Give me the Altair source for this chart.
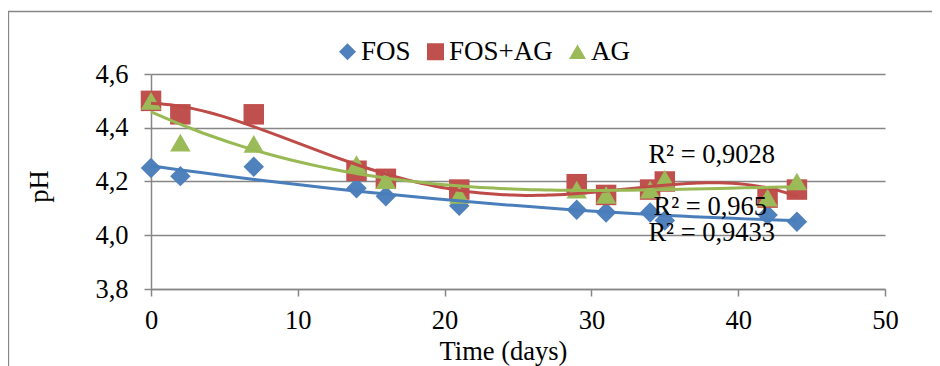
import altair as alt
import pandas as pd

# ---- data ----
days = [0, 2, 7, 14, 16, 21, 29, 31, 34, 35, 42, 44]
fos = [4.25, 4.22, 4.255, 4.175, 4.145, 4.11, 4.095, 4.085, 4.085, 4.055, 4.075, 4.05]
fos_ag = [4.50, 4.45, 4.45, 4.24, 4.21, 4.17, 4.19, 4.15, 4.17, 4.20, 4.14, 4.17]
ag = [4.50, 4.345, 4.34, 4.265, 4.205, 4.15, 4.17, 4.15, 4.17, 4.21, 4.14, 4.20]

series = ["FOS", "FOS+AG", "AG"]
marker_colors = ["#4F81BD", "#C0504D", "#9BBB59"]
line_colors = ["#4A7EBB", "#BE4B48", "#98B954"]
shapes = ["diamond", "square", "triangle-up"]
poly_orders = [2, 4, 3]

r2_text = ["R² = 0,9028", "R² = 0,965", "R² = 0,9433"]
r2_x = [38.2, 38.1, 38.2]
r2_y = [4.269, 4.075, 3.980]

x_ticks = [0, 10, 20, 30, 40, 50]
y_ticks = [3.8, 4.0, 4.2, 4.4, 4.6]

# ---- tables ----
values = {"FOS": fos, "FOS+AG": fos_ag, "AG": ag}
rows = []
for s in series:
    for d, v in zip(days, values[s]):
        rows.append({"day": d, "pH": v, "series": s})
df = pd.DataFrame(rows)
df_r2 = pd.DataFrame({"day": r2_x, "pH": r2_y, "label": r2_text})

W, H = 734, 215
FONT = "Liberation Serif"
FS = 26.5
GRAY = "#868686"

x_enc = alt.X(
    "day:Q",
    scale=alt.Scale(domain=[0, 50], nice=False, zero=False),
    axis=alt.Axis(
        values=x_ticks, title="Time (days)", grid=False, labelFlush=False,
        domainColor=GRAY, domainWidth=1.5, tickColor=GRAY, tickWidth=1.5, tickSize=7,
        labelFont=FONT, labelFontSize=FS, labelColor="black", labelPadding=11,
        titleFont=FONT, titleFontSize=FS, titleFontWeight="normal", titleColor="black",
        titleX=352, titleY=70, titleAlign="center", titleBaseline="alphabetic",
    ),
)
y_enc = alt.Y(
    "pH:Q",
    scale=alt.Scale(domain=[3.8, 4.6], nice=False, zero=False),
    axis=alt.Axis(
        values=y_ticks, title="pH", labelFlush=False,
        labelExpr="replace(format(datum.value, '.1f'), '.', ',')",
        grid=True, gridColor=GRAY, gridWidth=1.5,
        domainColor=GRAY, domainWidth=1.5, tickColor=GRAY, tickWidth=1.5, tickSize=7,
        labelFont=FONT, labelFontSize=FS, labelColor="black", labelPadding=16,
        titleFont=FONT, titleFontSize=FS, titleFontWeight="normal", titleColor="black",
        titleX=-104, titleY=112, titleAlign="center", titleBaseline="alphabetic", titleAngle=270,
    ),
)

legend = alt.Legend(
    title=None, orient="none", legendX=183, legendY=-36, direction="horizontal",
    labelFont=FONT, labelFontSize=27, labelColor="black", labelOffset=0,
    symbolSize=290, symbolStrokeWidth=0, symbolOpacity=1, columnPadding=11, padding=0,
)

points = alt.Chart(df).mark_point(filled=True, opacity=1, size=420).encode(
    x=x_enc, y=y_enc,
    color=alt.Color("series:N", scale=alt.Scale(domain=series, range=marker_colors), legend=legend),
    shape=alt.Shape("series:N", scale=alt.Scale(domain=series, range=shapes), legend=legend),
)

lines = []
for s, c, o in zip(series, line_colors, poly_orders):
    lines.append(
        alt.Chart(df).transform_filter(alt.datum.series == s)
        .transform_regression("day", "pH", method="poly", order=o)
        .mark_line(color=c, strokeWidth=3)
        .encode(x=x_enc, y=y_enc)
    )

labels = alt.Chart(df_r2).mark_text(
    font=FONT, fontSize=FS, color="black", align="center", baseline="alphabetic"
).encode(x=x_enc, y=y_enc, text="label:N")

frame = alt.Chart(pd.DataFrame({"a": [0]})).mark_rect(
    fillOpacity=0, stroke=GRAY, strokeWidth=1.3
).encode(
    x=alt.value(-142.5), x2=alt.value(W + 80),
    y=alt.value(-62.5), y2=alt.value(H + 120),
)

chart = alt.layer(frame, points, *lines, labels).properties(
    width=W, height=H,
    padding={"left": 143, "top": 66, "right": 47, "bottom": 77},
    autosize=alt.AutoSizeParams(type="none"),
    background="white",
).configure(
    font=FONT
).configure_axis(
    labelFont=FONT, titleFont=FONT
).configure_legend(
    labelFont=FONT
).configure_view(stroke=None)

chart.save("out.html", embed_options={"renderer": "svg", "actions": False})
